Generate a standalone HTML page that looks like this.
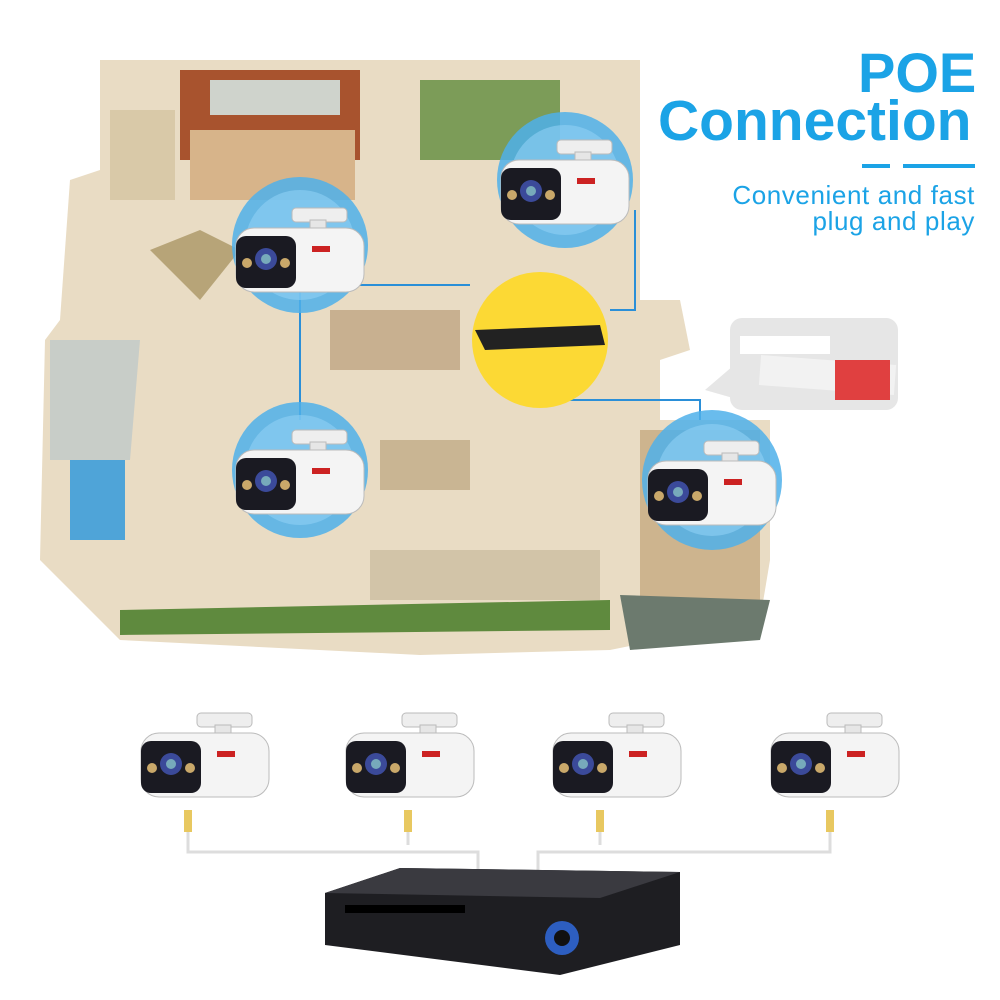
<!DOCTYPE html>
<html><head><meta charset="utf-8"><style>
body{margin:0;width:1000px;height:1000px;background:#fff;position:relative;overflow:hidden;font-family:"Liberation Sans",sans-serif}
.t{position:absolute;color:#1ba3e6;font-weight:bold}
</style></head><body>
<svg width="1000" height="1000" style="position:absolute;left:0;top:0">
<defs>
<g id="cam">
 <rect x="-8" y="-42" width="55" height="14" rx="4" fill="#eee" stroke="#bbb"/>
 <rect x="10" y="-30" width="16" height="20" fill="#e6e6e6" stroke="#bbb"/>
 <rect x="-64" y="-22" width="128" height="64" rx="18" fill="#f4f4f4" stroke="#bbb"/>
 <rect x="-64" y="-14" width="60" height="52" rx="10" fill="#1a1a22"/>
 <circle cx="-34" cy="9" r="11" fill="#3b4a9a"/><circle cx="-34" cy="9" r="5" fill="#7ab"/>
 <circle cx="-53" cy="13" r="5" fill="#c9a86a"/><circle cx="-15" cy="13" r="5" fill="#c9a86a"/>
 <rect x="12" y="-4" width="18" height="6" fill="#c22"/>
</g>
</defs>
<polygon points="100,60 640,60 640,300 680,300 690,350 660,360 660,420 770,420 770,560 760,620 610,650 420,655 120,640 40,560 45,340 60,320 70,180 100,170" fill="#e9dcc4"/>
<polygon points="180,70 360,70 360,160 180,160" fill="#a8532e"/>
<polygon points="210,80 340,80 340,115 210,115" fill="#cfd3cc"/>
<polygon points="190,130 355,130 355,200 190,200" fill="#d7b48a"/>
<polygon points="110,110 175,110 175,200 110,200" fill="#d9c9a8"/>
<polygon points="50,340 140,340 130,460 50,460" fill="#c8cdc8"/>
<polygon points="70,460 125,460 125,540 70,540" fill="#4fa4d8"/>
<polygon points="120,610 610,600 610,630 120,635" fill="#5f8a3e"/>
<polygon points="370,550 600,550 600,600 370,600" fill="#d2c4a8"/>
<polygon points="420,80 560,80 560,160 420,160" fill="#7c9c58"/>
<polygon points="640,430 760,430 760,600 640,600" fill="#cdb48e"/>
<polygon points="330,310 460,310 460,370 330,370" fill="#c8b090"/>
<polygon points="380,440 470,440 470,490 380,490" fill="#c9b593"/>
<polygon points="150,250 200,230 240,250 200,300" fill="#b7a478"/>
<polygon points="620,595 770,600 760,640 630,650" fill="#6c7a6e"/>
<path d="M300,290 L300,420 M360,285 L470,285 M610,310 L635,310 L635,210 M560,400 L700,400 L700,420" stroke="#2a8fd8" stroke-width="2" fill="none"/>
<circle cx="300" cy="245" r="68" fill="#4fb0ea" opacity=".85"/><circle cx="300" cy="245" r="55" fill="#8fd0f5" opacity=".6"/>
<circle cx="565" cy="180" r="68" fill="#4fb0ea" opacity=".85"/><circle cx="565" cy="180" r="55" fill="#8fd0f5" opacity=".6"/>
<circle cx="300" cy="470" r="68" fill="#4fb0ea" opacity=".85"/><circle cx="300" cy="470" r="55" fill="#8fd0f5" opacity=".6"/>
<circle cx="712" cy="480" r="70" fill="#4fb0ea" opacity=".85"/><circle cx="712" cy="480" r="56" fill="#8fd0f5" opacity=".6"/>
<circle cx="540" cy="340" r="68" fill="#fcd934"/>
<polygon points="475,330 600,325 605,345 485,350" fill="#222"/>
<use href="#cam" x="300" y="250"/>
<use href="#cam" x="565" y="182"/>
<use href="#cam" x="300" y="472"/>
<use href="#cam" x="712" y="483"/>
<rect x="730" y="318" width="168" height="92" rx="12" fill="#e6e6e6"/>
<polygon points="705,390 740,360 740,400" fill="#e6e6e6"/>
<path d="M740,345 L830,345" stroke="#fff" stroke-width="18"/>
<path d="M760,370 L895,380" stroke="#f2f2f2" stroke-width="30"/>
<rect x="835" y="360" width="55" height="40" fill="#e04040"/>
<use href="#cam" x="205" y="755"/><use href="#cam" x="410" y="755"/>
<use href="#cam" x="617" y="755"/><use href="#cam" x="835" y="755"/>
<path d="M188,818 L188,852 L478,852 L478,870 M408,818 L408,845 M600,818 L600,845 M830,818 L830,852 L538,852 L538,870" stroke="#ddd" stroke-width="3" fill="none"/>
<g fill="#e8c860"><rect x="184" y="810" width="8" height="22"/><rect x="404" y="810" width="8" height="22"/><rect x="596" y="810" width="8" height="22"/><rect x="826" y="810" width="8" height="22"/></g>
<polygon points="325,893 400,868 680,872 680,945 560,975 325,945" fill="#1e1e22"/>
<polygon points="400,868 680,872 600,898 325,893" fill="#3a3a40"/>
<rect x="345" y="905" width="120" height="8" fill="#000"/>
<circle cx="562" cy="938" r="17" fill="#2d5ec0"/><circle cx="562" cy="938" r="8" fill="#111"/>
</svg>
<div class="t" style="left:858px;top:40px;font-size:56px">POE</div>
<div class="t" style="left:658px;top:88px;font-size:57px">Connection</div>
<div style="position:absolute;left:862px;top:164px;width:28px;height:4px;background:#1ba3e6"></div>
<div style="position:absolute;left:903px;top:164px;width:72px;height:4px;background:#1ba3e6"></div>
<div style="position:absolute;right:25px;top:182px;text-align:right;color:#1ba3e6;font-size:26px;letter-spacing:0.6px;line-height:26px">Convenient and fast<br>plug and play</div>
</body></html>
